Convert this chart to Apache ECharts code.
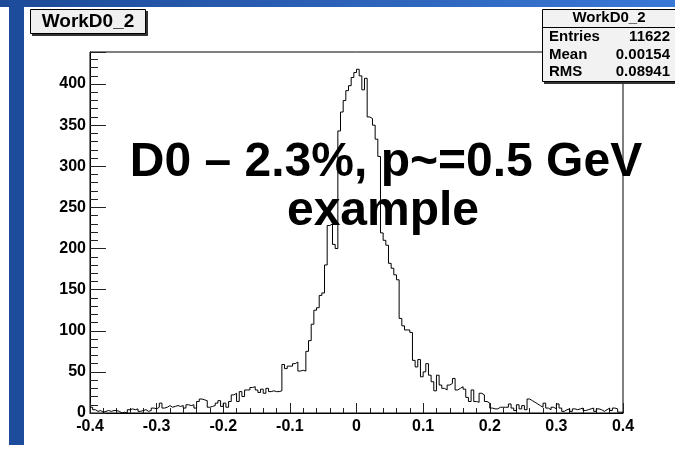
<!DOCTYPE html>
<html>
<head>
<meta charset="utf-8">
<script src="https://cdn.jsdelivr.net/npm/echarts@6/dist/echarts.min.js"></script>
<style>
html, body { margin: 0; padding: 0; background: #fff; }
#chart { width: 675px; height: 455px; }
</style>
</head>
<body>
<div id="chart"></div>
<script>
// histogram definition
var xMin = -0.4, xMax = 0.4, nBins = 200;
var xTickLabels = ['-0.4', '-0.3', '-0.2', '-0.1', '0', '0.1', '0.2', '0.3', '0.4'];

// bin contents, left to right
var countsA = [
    7, 4, 2, 3, 1, 2, 3, 2, 3, 3,
    2, 0, 1, 0, 4, 5, 4, 5, 2, 3,
    4, 2, 3, 6, 5, 7, 12, 6, 7, 9,
    7, 8, 9, 8, 9, 6, 10, 9, 10, 6,
    14, 17, 16, 15, 7, 8, 9, 12, 15, 8
];
var countsB = [
    12, 7, 14, 22, 24, 14, 26, 20, 28, 28,
    31, 32, 28, 25, 29, 24, 30, 26, 27, 26,
    26, 27, 59, 54, 57, 57, 60, 62, 51, 52,
    51, 75, 88, 108, 125, 128, 143, 146, 180, 228,
    230, 205, 200, 343, 366, 380, 392, 398, 408, 414
];
var countsC = [
    418, 410, 393, 407, 360, 358, 350, 333, 312, 219,
    210, 204, 182, 176, 168, 162, 115, 106, 101, 101,
    98, 64, 56, 65, 44, 50, 60, 46, 38, 27,
    46, 34, 30, 28, 34, 36, 42, 28, 30, 32,
    29, 19, 14, 28, 14, 13, 24, 22, 14, 12
];
var countsD = [
    6, 5, 5, 7, 7, 7, 7, 11, 6, 3,
    10, 5, 9, 4, 17, 15, 13, 11, 9, 7,
    12, 6, 4, 7, 5, 11, 6, 2, 4, 5,
    2, 5, 4, 5, 6, 3, 4, 5, 6, 2,
    5, 4, 2, 4, 6, 3, 6, 5, 1, 1
];

var statsLabels = ['Entries', 'Mean', 'RMS'];
var statsValues = ['11622', '0.00154', '0.08941'];

var counts = countsA.concat(countsB, countsC, countsD);
var binWidth = (xMax - xMin) / nBins;

// step line through the left edge of every bin
var stepData = [];
for (var i = 0; i < counts.length; i++) {
    stepData.push([xMin + i * binWidth, counts[i]]);
}
stepData.push([xMax, counts[counts.length - 1]]);

var font = 'Liberation Sans, Arial, Helvetica, sans-serif';

function xLabel(v) {
    var idx = Math.round((v - xMin) / 0.1);
    return xTickLabels[idx] !== undefined ? xTickLabels[idx] : '';
}

function statText(x, y, text, align) {
    return {
        type: 'text', z: 102, x: x, y: y,
        style: { text: text, fill: '#000', font: 'bold 15px ' + font, align: align, verticalAlign: 'middle' }
    };
}

var chart = echarts.init(document.getElementById('chart'));

var option = {
    animation: false,
    backgroundColor: '#fff',
    grid: {
        left: 90, top: 52, width: 533, height: 361,
        show: true, borderColor: '#000', borderWidth: 1
    },
    xAxis: [
        {
            type: 'value', min: xMin, max: xMax, interval: 0.1, position: 'bottom',
            axisLine: { show: true, onZero: false, lineStyle: { color: '#000', width: 1 } },
            axisTick: { show: true, inside: true, length: 10, lineStyle: { color: '#222' } },
            axisLabel: {
                margin: 6, color: '#000', fontFamily: font, fontWeight: 'bold', fontSize: 16,
                formatter: xLabel
            },
            splitLine: { show: false }
        },
        {
            type: 'value', min: xMin, max: xMax, interval: 0.02, position: 'bottom',
            axisLine: { show: false, onZero: false },
            axisTick: { show: true, inside: true, length: 5, lineStyle: { color: '#222' } },
            axisLabel: { show: false },
            splitLine: { show: false }
        }
    ],
    yAxis: [
        {
            type: 'value', min: 0, max: 439, interval: 50, position: 'left',
            axisLine: { show: true, onZero: false, lineStyle: { color: '#000', width: 1 } },
            axisTick: { show: true, inside: true, length: 16, lineStyle: { color: '#222' } },
            axisLabel: {
                margin: 4, color: '#000', fontFamily: font, fontWeight: 'bold', fontSize: 16,
                formatter: function (v) { return v % 50 === 0 ? String(v) : ''; }
            },
            splitLine: { show: false }
        },
        {
            type: 'value', min: 0, max: 439, interval: 10, position: 'left',
            axisLine: { show: false, onZero: false },
            axisTick: { show: true, inside: true, length: 8, lineStyle: { color: '#222' } },
            axisLabel: { show: false },
            splitLine: { show: false }
        }
    ],
    series: [{
        type: 'line',
        xAxisIndex: 0,
        yAxisIndex: 0,
        step: 'end',
        symbol: 'none',
        data: stepData,
        lineStyle: { color: '#000', width: 1 },
        silent: true
    }],
    graphic: [
        // slide borders
        {
            type: 'rect', z: 100, shape: { x: 0, y: 0, width: 675, height: 7 },
            style: {
                fill: new echarts.graphic.LinearGradient(0, 0, 1, 0, [
                    { offset: 0, color: '#1d4a98' },
                    { offset: 1, color: '#3a78d6' }
                ])
            }
        },
        { type: 'rect', z: 100, shape: { x: 9, y: 0, width: 15, height: 445 }, style: { fill: '#1e4c9c' } },

        // title box
        { type: 'rect', z: 100, shape: { x: 32, y: 11, width: 116, height: 25 }, style: { fill: '#333' } },
        { type: 'rect', z: 101, shape: { x: 30.5, y: 9.5, width: 115, height: 24 }, style: { fill: '#f0f0f0', stroke: '#000', lineWidth: 1 } },
        {
            type: 'text', z: 102, x: 88, y: 22,
            style: { text: 'WorkD0_2', fill: '#000', font: 'bold 19px ' + font, align: 'center', verticalAlign: 'middle' }
        },

        // stats box
        { type: 'rect', z: 100, shape: { x: 544, y: 11, width: 133, height: 73 }, style: { fill: '#333' } },
        { type: 'rect', z: 101, shape: { x: 542.5, y: 9.5, width: 133, height: 72 }, style: { fill: '#f2f2f2', stroke: '#000', lineWidth: 1 } },
        { type: 'line', z: 102, shape: { x1: 542.5, y1: 27.5, x2: 675, y2: 27.5 }, style: { stroke: '#000', lineWidth: 1 } },
        {
            type: 'text', z: 102, x: 609, y: 18,
            style: { text: 'WorkD0_2', fill: '#000', font: 'bold 15px ' + font, align: 'center', verticalAlign: 'middle' }
        },
        statText(549, 37, statsLabels[0], 'left'),
        statText(670, 37, statsValues[0], 'right'),
        statText(549, 55, statsLabels[1], 'left'),
        statText(670, 55, statsValues[1], 'right'),
        statText(549, 72, statsLabels[2], 'left'),
        statText(670, 72, statsValues[2], 'right'),

        // annotation
        {
            type: 'text', z: 102, x: 386, y: 163,
            style: { text: 'D0 \u2013 2.3%, p~=0.5 GeV', fill: '#000', font: 'bold 48px ' + font, align: 'center', verticalAlign: 'middle' }
        },
        {
            type: 'text', z: 102, x: 383, y: 212,
            style: { text: 'example', fill: '#000', font: 'bold 48px ' + font, align: 'center', verticalAlign: 'middle' }
        }
    ]
};

chart.setOption(option);
</script>
</body>
</html>
